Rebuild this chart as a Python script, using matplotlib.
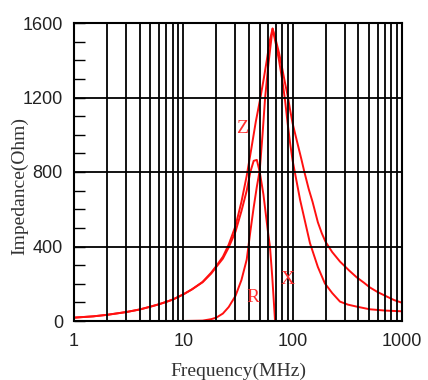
import matplotlib
matplotlib.use("Agg")
import matplotlib.pyplot as plt
from matplotlib.ticker import FixedLocator, NullFormatter

# ---- data ----
z_freq = [1, 1.5, 2, 3, 4, 5, 6, 7, 8, 10, 12, 15, 18, 20, 23, 26, 30, 34, 38, 42, 46,
          50, 54, 58, 62, 65.5, 70, 75, 80, 85, 90, 95, 100, 110, 120, 128, 140, 152,
          170, 185, 200, 230, 271, 330, 386, 450, 506, 600, 728, 850, 1000]
z_vals = [18, 25, 33, 48, 62, 77, 90, 103, 115, 143, 170, 210, 260, 295, 345, 410, 510,
          640, 780, 930, 1070, 1180, 1290, 1400, 1510, 1570, 1510, 1440, 1360, 1280, 1210,
          1130, 1060, 960, 870, 800, 710, 640, 530, 470, 425, 370, 319, 270, 234, 205,
          181, 155, 131, 112, 98]

r_freq = [1, 10, 15, 18, 20, 23, 26, 30, 34, 38, 41, 44, 47, 50, 53, 56, 60, 65.5, 70,
          75, 80, 85, 90, 95, 100, 117, 144, 170, 197, 230, 271, 320, 386, 506, 700, 1000]
r_vals = [0, 0, 2, 10, 18, 40, 75, 135, 220, 330, 480, 610, 720, 810, 1000, 1200, 1380,
          1570, 1490, 1400, 1300, 1190, 1060, 950, 860, 650, 418, 290, 202, 150, 104, 88,
          77, 63, 56, 52]

x_freq = [1, 1.5, 2, 3, 4, 5, 6, 7, 8, 10, 12, 15, 18, 20, 23, 26, 30, 34, 38, 41, 44,
          47, 50, 54, 58, 60, 62, 65, 67, 69]
x_vals = [18, 25, 33, 48, 62, 77, 90, 103, 115, 143, 170, 208, 255, 290, 335, 395, 480,
          590, 700, 800, 860, 865, 800, 680, 530, 460, 400, 240, 120, 0]

x_ticks = [1, 10, 100, 1000]
x_ticklabels = ["1", "10", "100", "1000"]
y_ticks = [0, 400, 800, 1200, 1600]

# ---- figure ----
fig = plt.figure(figsize=(4.28, 3.8), dpi=100)
ax = fig.add_axes([74 / 428, 1 - 321 / 380, 328 / 428, 298 / 380])
ax.set_xscale("log")
ax.set_xlim(1, 1000)
ax.set_ylim(0, 1600)

red = "#ff1010"
ax.plot(z_freq, z_vals, color=red, lw=1.4, zorder=2)
ax.plot(r_freq, r_vals, color=red, lw=1.4, zorder=2)
ax.plot(x_freq, x_vals, color=red, lw=1.4, zorder=2)

ax.set_axisbelow(False)
ax.xaxis.set_major_locator(FixedLocator(x_ticks))
ax.set_xticklabels(x_ticklabels)
minor_x = [m * 10 ** d for d in range(3) for m in range(2, 10)]
ax.xaxis.set_minor_locator(FixedLocator(minor_x))
ax.xaxis.set_minor_formatter(NullFormatter())
ax.grid(which="both", axis="x", color="black", lw=1.3)

ax.set_yticks(y_ticks)
ax.yaxis.set_minor_locator(FixedLocator(list(range(0, 1601, 100))))
ax.grid(which="major", axis="y", color="black", lw=1.3)

ax.tick_params(axis="y", which="both", direction="in", length=8, width=1.0,
               left=True, right=False, pad=8, labelsize=13, labelcolor="#222222")
ax.tick_params(axis="x", which="both", direction="in", length=0, pad=9,
               labelsize=13, labelcolor="#222222")
for lab in ax.get_xticklabels() + ax.get_yticklabels():
    lab.set_fontfamily("Liberation Sans")

for s in ax.spines.values():
    s.set_linewidth(1.5)
    s.set_color("black")

label_font = dict(family="Liberation Serif", size=14, color="#333333")
fig.text(238 / 428, 1 - 371 / 380, "Frequency(MHz)", ha="center", va="center", **label_font)
fig.text(20 / 428, 1 - 186 / 380, "Impedance(Ohm)", ha="center", va="center",
         rotation=90, **label_font)

lab_font = dict(family="Liberation Serif", size=14, color="#ff3030", ha="center", va="center")
ax.text(34.8, 1034, "Z", **lab_font)
ax.text(42.9, 126, "R", **lab_font)
ax.text(89.7, 223, "X", **lab_font)

fig.savefig("out.png", dpi=100)
